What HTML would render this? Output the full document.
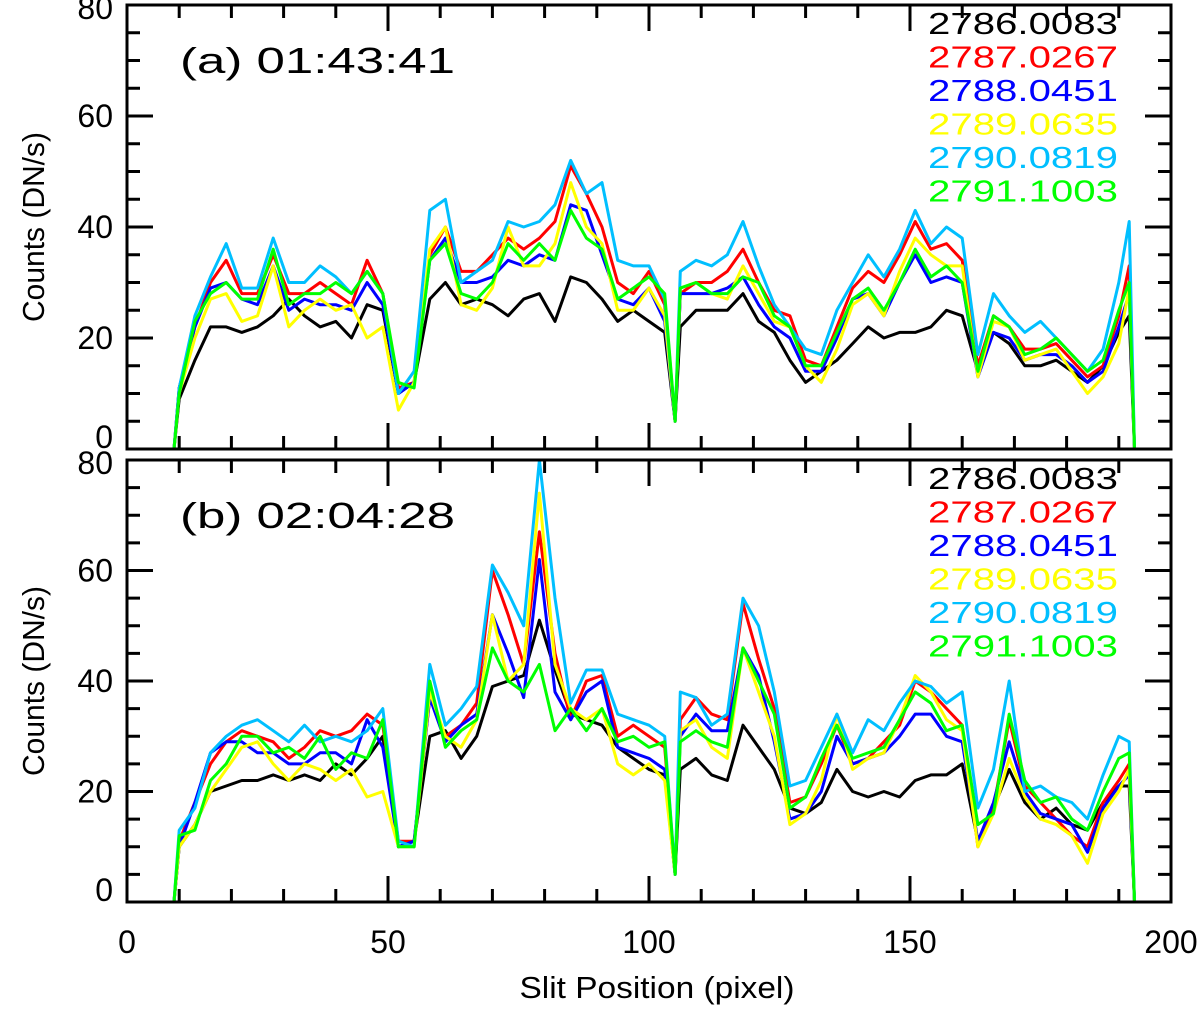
<!DOCTYPE html>
<html><head><meta charset="utf-8"><style>
html,body{margin:0;padding:0;background:#fff;}
svg{display:block;font-family:"Liberation Sans",sans-serif;}
</style></head><body>
<svg id="chart" width="1200" height="1012" viewBox="0 0 1200 1012" xmlns="http://www.w3.org/2000/svg"></svg>
<script>
const slitPositions=[9,10,13,16,19,22,25,28,31,34,37,40,43,46,49,52,55,58,61,64,67,70,73,76,79,82,85,88,91,94,97,100,103,105,106,109,112,115,118,121,124,127,130,133,136,139,142,145,148,151,154,157,160,163,166,169,172,175,178,181,184,187,190,192,193];
const wavelengths=["2786.0083","2787.0267","2788.0451","2789.0635","2790.0819","2791.1003"];
const seriesColors=["#000000","#ff0000","#0000ff","#ffff00","#00bfff","#00ff00"];
const xTicks=[0,50,100,150,200];
const yTicks=[0,20,40,60,80];
const panelLabels=["(a) 01:43:41","(b) 02:04:28"];
// panel a
const a2786=[0,9,16,22,22,21,22,24,27,24,22,23,20,26,25,10,12,27,30,26,27,26,24,27,28,23,31,30,27,23,25,23,21,5,22,25,25,25,28,23,21,16,12,14,16,19,22,20,21,21,22,25,24,14,21,19,15,15,16,14,12,15,21,24,0];
const a2787=[0,11,22,30,34,28,28,35,28,28,30,28,26,34,28,11,12,35,40,32,32,35,38,36,38,41,51,46,40,30,28,32,26,5,28,30,30,32,36,30,25,24,16,15,22,29,32,30,35,41,36,37,34,15,24,22,18,18,19,16,13,15,24,33,0];
const a2788=[0,11,22,29,30,27,26,33,25,27,26,26,25,30,26,10,12,34,38,30,30,31,34,33,35,34,44,43,35,27,26,29,23,5,28,28,28,29,31,26,22,20,14,14,20,27,28,24,30,35,30,31,30,13,21,20,16,17,17,15,12,14,22,28,0];
const a2789=[0,10,20,27,28,23,24,33,22,25,27,25,26,20,22,7,12,36,40,26,25,29,40,33,33,37,48,40,37,25,25,29,24,5,29,30,28,27,33,28,23,22,15,12,18,26,28,24,32,38,35,33,33,13,23,22,16,17,18,14,10,13,19,29,0];
const a2790=[0,11,24,31,37,29,29,38,30,30,33,31,28,32,28,10,14,43,45,30,32,34,41,40,41,44,52,46,48,34,33,33,27,5,32,34,33,35,41,33,26,22,18,17,25,30,35,31,36,43,37,40,38,17,28,24,21,23,20,17,14,18,30,41,0];
const a2791=[0,10,23,28,30,27,27,36,26,28,28,30,28,32,28,12,11,34,37,28,27,30,37,34,37,34,43,38,36,27,29,31,28,5,29,30,28,28,31,30,24,22,15,15,21,27,29,25,30,36,31,33,30,14,24,22,17,18,20,17,14,16,25,30,0];
// panel b
const b2786=[0,10,14,20,21,22,22,23,22,23,22,25,23,26,30,10,11,30,31,26,30,39,40,41,51,42,34,33,32,28,26,24,23,5,24,26,23,22,32,28,24,17,16,18,24,20,19,20,19,22,23,23,25,11,17,24,18,15,17,14,13,18,21,21,0];
const b2787=[0,11,18,25,29,31,30,29,26,28,31,30,31,34,32,11,11,37,30,32,36,60,52,43,67,45,33,40,41,30,32,30,28,5,33,37,34,33,54,44,35,18,19,25,32,25,26,29,32,40,38,35,32,10,17,33,21,18,15,12,10,18,22,25,0];
const b2788=[0,10,18,27,29,29,27,27,25,25,27,27,25,33,28,10,11,37,29,32,34,52,45,37,62,38,33,38,40,28,27,26,24,5,30,34,31,31,46,41,29,15,16,20,30,25,26,27,30,34,34,30,29,11,18,29,20,16,15,14,9,17,21,23,0];
const b2789=[0,10,14,20,24,28,29,25,22,25,24,22,24,19,20,10,10,38,30,28,33,52,40,43,74,43,35,33,35,25,23,25,22,5,31,33,28,26,46,38,30,14,16,22,34,24,26,27,33,41,38,33,31,10,16,26,19,15,14,12,7,16,20,24,0];
const b2790=[0,13,17,27,30,32,33,31,29,32,29,30,29,31,35,11,10,43,32,35,39,61,56,50,80,55,36,42,42,34,33,32,30,5,38,37,32,34,55,50,38,21,22,28,34,27,33,31,36,40,39,36,38,17,24,40,20,21,19,18,15,23,30,29,0];
const b2791=[0,12,13,22,25,30,30,27,28,26,30,24,27,26,33,10,10,40,28,31,33,46,40,38,43,31,35,31,35,29,30,28,29,5,29,31,29,28,46,40,34,17,19,26,32,26,27,28,33,38,36,31,32,14,16,34,22,18,19,15,13,20,26,27,0];

const panelASeries=[a2786,a2787,a2788,a2789,a2790,a2791];
const panelBSeries=[b2786,b2787,b2788,b2789,b2790,b2791];
const NS="http://www.w3.org/2000/svg";
const svg=document.getElementById('chart');
const X0=127,X1=1171;
function xScale(v){return X0+(v/200)*(X1-X0);}
function mk(tag,attrs,parent){const e=document.createElementNS(NS,tag);for(const k in attrs)e.setAttribute(k,attrs[k]);(parent||svg).appendChild(e);return e;}

const panels=[{top:5,bottom:449,series:panelASeries,label:panelLabels[0],legendY:22,key:'a'},
              {top:460,bottom:902,series:panelBSeries,label:panelLabels[1],legendY:477,key:'b'}];
panels.forEach((p,pi)=>{
  const yScale=v=>p.bottom-(v/80)*(p.bottom-p.top);
  const g=mk('g',{});
  
  
  p.series.forEach((vals,si)=>{
    let d='';
    vals.forEach((v,i)=>{d+=(i?'L':'M')+xScale(slitPositions[i]).toFixed(1)+','+yScale(v).toFixed(1);});
    const path=mk('path',{d:d,fill:'none',stroke:seriesColors[si],'stroke-width':3,'stroke-linejoin':'round'},g);
    
    
  });
  const fr=mk('rect',{x:X0,y:p.top,width:X1-X0,height:p.bottom-p.top,fill:'none',stroke:'#000','stroke-width':3},g);
  
  
  for(let v=0;v<=200;v+=10){
    const x=xScale(v);const L=(v%50===0)?26:13;
    mk('line',{x1:x,x2:x,y1:p.bottom,y2:p.bottom-L,stroke:'#000','stroke-width':3},g);
    mk('line',{x1:x,x2:x,y1:p.top,y2:p.top+L,stroke:'#000','stroke-width':3},g);
  }
  for(let v=0;v<=80;v+=5){
    const y=yScale(v);const L=(v%20===0)?26:13;
    mk('line',{x1:X0,x2:X0+L,y1:y,y2:y,stroke:'#000','stroke-width':3},g);
    mk('line',{x1:X1,x2:X1-L,y1:y,y2:y,stroke:'#000','stroke-width':3},g);
  }
  yTicks.forEach(v=>{
    const t=mk('text',{x:113,y:yScale(v)+(v===80?14:v===0?-1:11),'text-anchor':'end','font-size':32,fill:'#000'},g);
    t.textContent=v;
    
    
  });
  const yt=mk('text',{x:0,y:0,'text-anchor':'middle','font-size':31,fill:'#000',textLength:190,lengthAdjust:'spacingAndGlyphs',transform:'translate(44,'+((p.top+p.bottom)/2)+') rotate(-90)'},g);
  yt.textContent='Counts (DN/s)';
  
  
  const lbl=mk('text',{x:180,y:p.top+68,'font-size':36,fill:'#000',textLength:275,lengthAdjust:'spacingAndGlyphs'},g);
  lbl.textContent=p.label;
  
  
  wavelengths.forEach((w,si)=>{
    const t=mk('text',{x:1118,y:p.legendY+12+si*33.5,'text-anchor':'end','font-size':31,fill:seriesColors[si],textLength:190,lengthAdjust:'spacingAndGlyphs'},g);
    t.textContent=w;
    
    
  });
});
xTicks.forEach(v=>{
  const t=mk('text',{x:xScale(v),y:953,'text-anchor':'middle','font-size':32,fill:'#000'});
  t.textContent=v;
  
  
});
const xt=mk('text',{x:xScale(100)+8,y:998,'text-anchor':'middle','font-size':31,fill:'#000',textLength:275,lengthAdjust:'spacingAndGlyphs'});
xt.textContent='Slit Position (pixel)';


</script>
</body></html>
